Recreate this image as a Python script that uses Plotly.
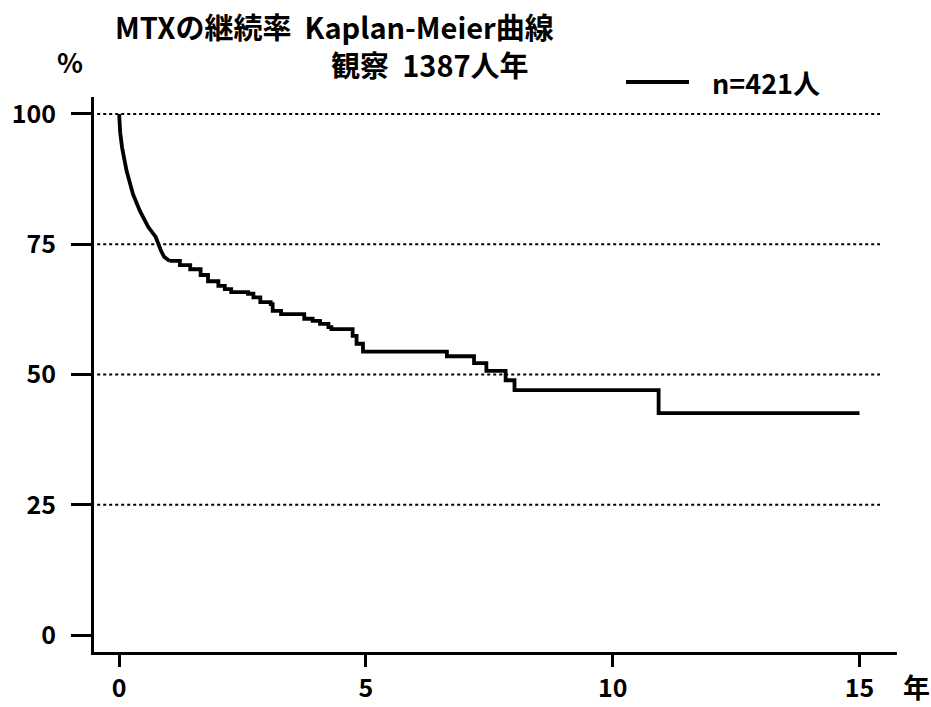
import plotly.graph_objects as go

# Kaplan-Meier data (years, % continuing)
# early, densely-stepped section (appears as a continuous curve)
years_early = [0.0, 0.02, 0.06, 0.15, 0.28, 0.42, 0.59, 0.74, 0.85, 0.91, 1.02]
survival_early = [100.0, 96.5, 93.5, 89.1, 84.6, 81.4, 78.3, 76.4, 73.7, 72.6, 71.8]
# later, clearly stepped section
years = [1.02, 1.23, 1.44, 1.65, 1.80, 2.01, 2.14, 2.27, 2.61, 2.72, 2.86, 3.07,
         3.11, 3.28, 3.75, 3.92, 4.07, 4.24, 4.30, 4.73, 4.81, 4.94, 6.64, 7.19,
         7.44, 7.83, 8.01, 10.93, 15.0]
survival = [71.8, 71.0, 70.2, 69.1, 67.9, 67.0, 66.4, 65.8, 65.5, 64.8, 63.9, 63.5,
            62.2, 61.6, 60.7, 60.3, 59.7, 59.1, 58.7, 57.4, 55.9, 54.4, 53.5, 52.2,
            50.7, 48.9, 47.0, 42.6, 42.6]

x_ticks = [0, 5, 10, 15]
y_ticks = [0, 25, 50, 75, 100]
grid_levels = [25, 50, 75, 100]

title1 = "MTXの継続率  Kaplan-Meier曲線"
title2 = "観察  1387人年"
legend_label = "n=421人"
y_unit = "%"
x_unit = "年"

FONT = "Noto Sans CJK JP"
W, H = 931, 707
L, R, T, B = 94, 897, 97, 652

def px(xp):
    return (xp - L) / (R - L)

def py(yp):
    return (B - yp) / (B - T)

fig = go.Figure()
fig.add_trace(go.Scatter(
    x=years_early, y=survival_early, mode="lines", line_shape="linear",
    line=dict(color="black", width=3.8), showlegend=False, name=legend_label,
    hoverinfo="skip"))
fig.add_trace(go.Scatter(
    x=years, y=survival, mode="lines", line_shape="hv",
    line=dict(color="black", width=3.8), showlegend=False, name=legend_label,
    hoverinfo="skip"))

xr = [-0.51, 15.76]
yr = [-3.26, 103.26]

shapes = []
for g in grid_levels:
    shapes.append(dict(type="line", xref="paper", yref="y", x0=0.004, x1=px(880),
                       y0=g, y1=g, line=dict(color="black", width=2, dash="dot"),
                       layer="below"))
# legend sample line
shapes.append(dict(type="line", xref="paper", yref="paper", x0=px(626), x1=px(689),
                   y0=py(82), y1=py(82), line=dict(color="black", width=4)))

TXT = dict(family=FONT, size=27, color="black", weight="bold")
TTL = dict(family=FONT, size=29, color="black", weight="bold")

annotations = [
    dict(text=title1, xref="paper", yref="paper", x=px(113), y=py(26),
         xanchor="left", yanchor="middle", showarrow=False, font=TTL),
    dict(text=title2, xref="paper", yref="paper", x=px(329), y=py(64),
         xanchor="left", yanchor="middle", showarrow=False, font=TTL),
    dict(text=y_unit, xref="paper", yref="paper", x=px(70), y=py(62),
         xanchor="center", yanchor="middle", showarrow=False, font=TXT),
    dict(text=legend_label, xref="paper", yref="paper", x=px(710), y=py(82),
         xanchor="left", yanchor="middle", showarrow=False, font=TXT),
    dict(text=x_unit, xref="paper", yref="paper", x=px(916), y=py(686),
         xanchor="center", yanchor="middle", showarrow=False, font=TXT),
]

TICK = dict(family=FONT, size=25, color="black", weight="bold")

fig.update_layout(
    width=W, height=H,
    margin=dict(l=L, r=W - R, t=T, b=H - B, pad=0, autoexpand=False),
    paper_bgcolor="white", plot_bgcolor="white",
    font=dict(family=FONT, size=24, color="black"),
    shapes=shapes, annotations=annotations,
    xaxis=dict(range=xr, tickvals=x_ticks, ticks="outside", ticklen=12, tickwidth=3,
               tickcolor="black", showline=True, linecolor="black", linewidth=3,
               showgrid=False, zeroline=False, fixedrange=True, automargin=False,
               ticklabelstandoff=0, tickfont=TICK),
    yaxis=dict(range=yr, tickvals=y_ticks, ticks="outside", ticklen=20, tickwidth=3,
               tickcolor="black", showline=True, linecolor="black", linewidth=3,
               showgrid=False, zeroline=False, fixedrange=True, automargin=False,
               ticklabelstandoff=10, tickfont=TICK),
)

fig.write_html("out.html", config={"displayModeBar": False},
               post_script="document.body.style.margin='0';")
